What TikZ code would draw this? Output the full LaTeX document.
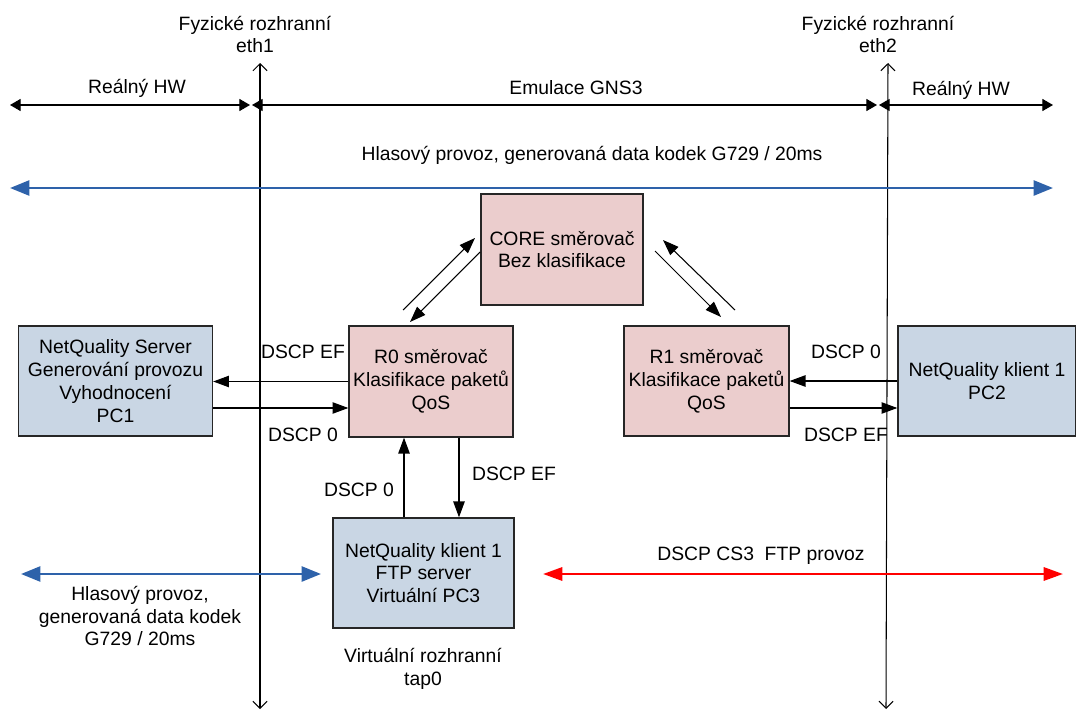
\documentclass[tikz,border=0pt]{standalone}
\usepackage{fontspec}
\setmainfont{Liberation Sans}
\usetikzlibrary{arrows.meta}
\definecolor{pcblue}{RGB}{201,214,228}
\definecolor{routerpink}{RGB}{235,205,205}
\definecolor{voiceblue}{RGB}{46,98,170}
\begin{document}
\begin{tikzpicture}[x=0.02cm,y=-0.02cm]
        \tikzstyle{box}=[draw=black!85,line width=0.8pt,align=center,font=\fontsize{11}{13}\selectfont,inner sep=1pt]
        \tikzstyle{pc}=[box,fill=pcblue]
        \tikzstyle{router}=[box,fill=routerpink]
        \tikzstyle{txt}=[align=center,font=\fontsize{11}{13}\selectfont,inner sep=0pt]
        \tikzstyle{edge}=[draw,line width=0.6pt,-{Triangle[length=9pt,width=6.5pt]}]
        \tikzstyle{span}=[draw,line width=0.6pt,{Triangle[length=6pt,width=6.8pt]}-{Triangle[length=6pt,width=6.8pt]}]
        \tikzstyle{iface}=[draw,line width=0.6pt,{Straight Barb[length=4pt,width=8pt]}-{Straight Barb[length=4pt,width=8pt]}]
        \tikzstyle{voice}=[draw=voiceblue,line width=1.5pt,{Triangle[length=11pt,width=8.5pt]}-{Triangle[length=11pt,width=8.5pt]},voiceblue]
        \tikzstyle{ftp}=[draw=red,line width=1.5pt,{Triangle[length=11pt,width=7.5pt]}-{Triangle[length=11pt,width=7.5pt]},red]
        \useasboundingbox (0,0) rectangle (1076,710);

        % interfaces
        \coordinate (ethonetop) at (260,63);
        \coordinate (ethonebot) at (260,709);
        \coordinate (ethtwotop) at (888,63);
        \coordinate (ethtwobot) at (886,709);
        \path[iface] (ethonetop) -- (ethonebot);
        \path[iface] (ethtwotop) -- (ethtwobot);
        \node [txt] (ethone) at (255,34.5) {Fyzické rozhranní\\eth1};
        \node [txt] (ethtwo) at (878,34.5) {Fyzické rozhranní\\eth2};

        % spans
        \coordinate (hwla) at (10,105);
        \coordinate (hwlb) at (250,105);
        \coordinate (gnsa) at (252,105);
        \coordinate (gnsb) at (877,105);
        \coordinate (hwra) at (879,105);
        \coordinate (hwrb) at (1053,105);
        \path[span] (hwla) -- (hwlb);
        \path[span] (gnsa) -- (gnsb);
        \path[span] (hwra) -- (hwrb);
        \node [txt] (hwleft) at (137,88) {Reálný HW};
        \node [txt] (gns) at (576,88) {Emulace GNS3};
        \node [txt] (hwright) at (961,90) {Reálný HW};

        \coordinate (voicea) at (10,188);
        \coordinate (voiceb) at (1053,188);
        \path[voice] (voicea) -- (voiceb);
        \node [txt] (voicetop) at (592,155) {Hlasový provoz, generovaná data kodek G729 / 20ms};

        % boxes
        \node [pc,minimum width=3.88cm,minimum height=2.2cm] (pcone) at (115.5,381) {NetQuality Server\\Generování provozu\\Vyhodnocení\\PC1};
        \node [router,minimum width=3.28cm,minimum height=2.22cm] (rzero) at (431,381.5) {R0 směrovač\\Klasifikace paketů\\QoS};
        \node [router,minimum width=3.24cm,minimum height=2.22cm] (core) at (562,249.5) {CORE směrovač\\Bez klasifikace};
        \node [router,minimum width=3.3cm,minimum height=2.2cm] (rone) at (706.5,381) {R1 směrovač\\Klasifikace paketů\\QoS};
        \node [pc,minimum width=3.56cm,minimum height=2.2cm] (pctwo) at (987,381) {NetQuality klient 1\\PC2};
        \node [pc,minimum width=3.62cm,minimum height=2.2cm] (pcthree) at (423.5,573) {NetQuality klient 1\\FTP server\\Virtuální PC3};

        % traffic
        \path[edge] (rzero.west) -- (pcone.east |- rzero.west);
        \path[edge] ([yshift=-0.54cm]pcone.east) -- ([yshift=-0.54cm]pcone.east -| rzero.west);
        \path[edge] (pctwo.west) -- (rone.east |- pctwo.west);
        \path[edge] ([yshift=-0.54cm]rone.east) -- ([yshift=-0.54cm]rone.east -| pctwo.west);
        \path[edge] ([xshift=-0.54cm]rzero.south |- pcthree.north) -- ([xshift=-0.54cm]rzero.south);
        \path[edge] ([xshift=0.56cm]rzero.south) -- ([xshift=0.56cm]rzero.south |- pcthree.north);

        \coordinate (rzeroup) at (403,310);
        \coordinate (coreinl) at (475,238);
        \coordinate (coreoutl) at (480,252);
        \coordinate (rzeroin) at (410,322);
        \coordinate (coreoutr) at (655,251);
        \coordinate (ronein) at (721,317);
        \coordinate (roneup) at (735,310);
        \coordinate (coreinr) at (663,240);
        \path[edge] (rzeroup) -- (coreinl);
        \path[edge] (coreoutl) -- (rzeroin);
        \path[edge] (coreoutr) -- (ronein);
        \path[edge] (roneup) -- (coreinr);

        \node [txt] (efone) at (303,352) {DSCP EF};
        \node [txt] (zeroone) at (303,435) {DSCP 0};
        \node [txt] (zerotwo) at (846,352) {DSCP 0};
        \node [txt] (eftwo) at (846,435) {DSCP EF};
        \node [txt] (zerothree) at (359,490) {DSCP 0};
        \node [txt] (efthree) at (514,474) {DSCP EF};

        % bottom
        \coordinate (voiceca) at (21,574);
        \coordinate (voicecb) at (321,574);
        \path[voice] (voiceca) -- (voicecb);
        \node [txt] (voicebot) at (140,616) {Hlasový provoz,\\generovaná data kodek\\G729 / 20ms};
        \coordinate (ftpa) at (543,574);
        \coordinate (ftpb) at (1063,574);
        \path[ftp] (ftpa) -- (ftpb);
        \node [txt] (ftplabel) at (761,556) {DSCP CS3\ \ FTP provoz};
        \node [txt] (tap) at (423,668.5) {Virtuální rozhranní\\tap0};
\end{tikzpicture}
\end{document}
